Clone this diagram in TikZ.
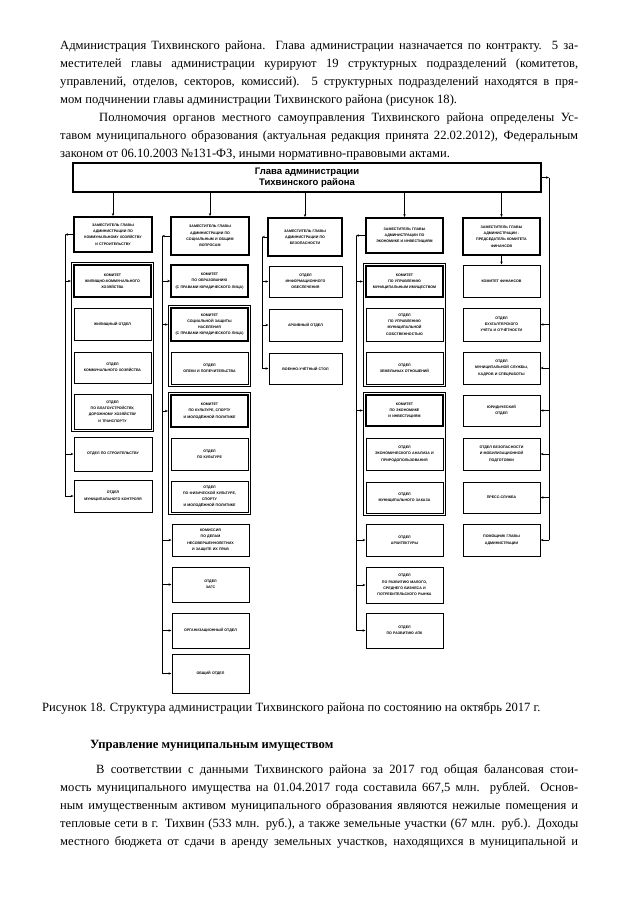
\documentclass[tikz,border=0pt]{standalone}
\usepackage{fontspec}
\setmainfont{Liberation Serif}
\newfontfamily\boxfont{Liberation Sans}
\usetikzlibrary{arrows.meta,fit}
\newcommand\ubox[7]{\node[#6, minimum width={(#4-#2)*1pt}, minimum height={(#5-#3)*1pt}] (#1) at ({(#2+#4)/2},{(#3+#5)/2}) {#7};}
\begin{document}
\begin{tikzpicture}[x=1pt,y=-1pt,
  arr/.style={-{Stealth[length=3pt,width=2.4pt]}, line width=0.7pt},
  ln/.style={line width=0.7pt},
  unit/.style={draw, line width=1pt, align=center, inner sep=0pt, text width=73pt, font=\boxfont\bfseries\fontsize{3.6}{6.2}\selectfont},
  dep/.style={unit, line width=1.8pt},
  kom/.style={unit, line width=1.4pt},
  grp/.style={draw, line width=0.8pt, inner sep=2pt},
  head/.style={draw, line width=2pt, inner sep=0pt, align=center, font=\boxfont\bfseries\fontsize{9.5}{11}\selectfont},
  para/.style={inner sep=0pt, text width=518pt, align=justify, anchor=base west, font=\fontsize{12.6}{18}\selectfont},
  plain/.style={inner sep=0pt, anchor=base west, font=\fontsize{12.6}{18}\selectfont},
]
\useasboundingbox (0,0) rectangle (640,903);
\fill[white] (0,0) rectangle (640,903);

% ---------- text above ----------
\node[para] (p1) at (60,49) {\hyphenpenalty=10000 \tolerance=9000
Администрация Тихвинского района. Глава администрации назначается по контракту. 5 за-\linebreak
местителей главы администрации курируют 19 структурных подразделений (комитетов,\linebreak
управлений, отделов, секторов, комиссий). 5 структурных подразделений находятся в пря-\linebreak
мом подчинении главы администрации Тихвинского района (рисунок 18).\par
\hspace*{39pt}Полномочия органов местного самоуправления Тихвинского района определены Ус-\linebreak
тавом муниципального образования (актуальная редакция принята 22.02.2012), Федеральным\linebreak
законом от 06.10.2003 №131-ФЗ, иными нормативно-правовыми актами.};

% ---------- head ----------
\ubox{top}{73}{163}{541}{192}{head}{Глава администрации\\Тихвинского района}

% ---------- deputies ----------
\ubox{d1}{74}{217}{152}{252}{dep}{ЗАМЕСТИТЕЛЬ ГЛАВЫ\\АДМИНИСТРАЦИИ ПО\\КОММУНАЛЬНОМУ ХОЗЯЙСТВУ\\И СТРОИТЕЛЬСТВУ}
\ubox{d2}{171}{217}{249}{255}{dep}{ЗАМЕСТИТЕЛЬ ГЛАВЫ\\АДМИНИСТРАЦИИ ПО\\СОЦИАЛЬНЫМ И ОБЩИМ\\ВОПРОСАМ}
\ubox{d3}{268}{218}{342}{256}{dep}{ЗАМЕСТИТЕЛЬ ГЛАВЫ\\АДМИНИСТРАЦИИ ПО\\БЕЗОПАСНОСТИ}
\ubox{d4}{366}{218}{443}{253}{dep}{ЗАМЕСТИТЕЛЬ ГЛАВЫ\\АДМИНИСТРАЦИИ ПО\\ЭКОНОМИКЕ И ИНВЕСТИЦИЯМ}
\ubox{d5}{463}{218}{540}{255}{dep}{ЗАМЕСТИТЕЛЬ ГЛАВЫ\\АДМИНИСТРАЦИИ -\\ПРЕДСЕДАТЕЛЬ КОМИТЕТА\\ФИНАНСОВ}

% ---------- column 1 ----------
\ubox{a1}{74}{265}{151}{297}{kom}{КОМИТЕТ\\ЖИЛИЩНО-КОММУНАЛЬНОГО\\ХОЗЯЙСТВА}
\ubox{a2}{74}{308}{151}{340}{unit}{ЖИЛИЩНЫЙ ОТДЕЛ}
\ubox{a3}{74}{352}{151}{383}{unit}{ОТДЕЛ\\КОММУНАЛЬНОГО ХОЗЯЙСТВА}
\ubox{a4}{74}{394}{151}{429}{unit}{ОТДЕЛ\\ПО БЛАГОУСТРОЙСТВУ,\\ДОРОЖНОМУ ХОЗЯЙСТВУ\\И ТРАНСПОРТУ}
\node[grp, fit=(a1)(a4)] (g1) {};
\ubox{a5}{74}{437}{152}{471}{unit}{ОТДЕЛ ПО СТРОИТЕЛЬСТВУ}
\ubox{a6}{74}{480}{152}{512}{unit}{ОТДЕЛ\\МУНИЦИПАЛЬНОГО КОНТРОЛЯ}

% ---------- column 2 ----------
\ubox{b1}{171}{265}{248}{297}{kom}{КОМИТЕТ\\ПО ОБРАЗОВАНИЮ\\(С ПРАВАМИ ЮРИДИЧЕСКОГО ЛИЦА)}
\ubox{b2}{171}{308}{248}{341}{kom}{КОМИТЕТ\\СОЦИАЛЬНОЙ ЗАЩИТЫ\\НАСЕЛЕНИЯ\\(С ПРАВАМИ ЮРИДИЧЕСКОГО ЛИЦА)}
\ubox{b3}{171}{352}{248}{384}{unit}{ОТДЕЛ\\ОПЕКИ И ПОПЕЧИТЕЛЬСТВА}
\node[grp, fit=(b2)(b3)] (g2) {};
\ubox{b4}{171}{395}{248}{427}{kom}{КОМИТЕТ\\ПО КУЛЬТУРЕ, СПОРТУ\\И МОЛОДЁЖНОЙ ПОЛИТИКЕ}
\ubox{b5}{171}{438}{248}{470}{unit}{ОТДЕЛ\\ПО КУЛЬТУРЕ}
\ubox{b6}{171}{481}{248}{512}{unit}{ОТДЕЛ\\ПО ФИЗИЧЕСКОЙ КУЛЬТУРЕ,\\СПОРТУ\\И МОЛОДЁЖНОЙ ПОЛИТИКЕ}
\node[grp, fit=(b4)(b6)] (g3) {};
\ubox{b7}{172}{524}{249}{556}{unit}{КОМИССИЯ\\ПО ДЕЛАМ\\НЕСОВЕРШЕННОЛЕТНИХ\\И ЗАЩИТЕ ИХ ПРАВ}
\ubox{b8}{172}{567}{249}{602}{unit}{ОТДЕЛ\\ЗАГС}
\ubox{b9}{172}{613}{249}{648}{unit}{ОРГАНИЗАЦИОННЫЙ ОТДЕЛ}
\ubox{b10}{172}{654}{249}{693}{unit}{ОБЩИЙ ОТДЕЛ}

% ---------- column 3 ----------
\ubox{c1}{269}{266}{342}{297}{unit}{ОТДЕЛ\\ИНФОРМАЦИОННОГО\\ОБЕСПЕЧЕНИЯ}
\ubox{c2}{269}{309}{342}{341}{unit}{АРХИВНЫЙ ОТДЕЛ}
\ubox{c3}{269}{353}{342}{384}{unit}{ВОЕННО-УЧЁТНЫЙ СТОЛ}

% ---------- column 4 ----------
\ubox{e1}{366}{266}{443}{297}{kom}{КОМИТЕТ\\ПО УПРАВЛЕНИЮ\\МУНИЦИПАЛЬНЫМ ИМУЩЕСТВОМ}
\ubox{e2}{366}{308}{443}{341}{unit}{ОТДЕЛ\\ПО УПРАВЛЕНИЮ\\МУНИЦИПАЛЬНОЙ\\СОБСТВЕННОСТЬЮ}
\ubox{e3}{366}{352}{443}{384}{unit}{ОТДЕЛ\\ЗЕМЕЛЬНЫХ ОТНОШЕНИЙ}
\node[grp, fit=(e1)(e3)] (g4) {};
\ubox{e4}{366}{395}{443}{426}{kom}{КОМИТЕТ\\ПО ЭКОНОМИКЕ\\И ИНВЕСТИЦИЯМ}
\ubox{e5}{366}{438}{443}{470}{unit}{ОТДЕЛ\\ЭКОНОМИЧЕСКОГО АНАЛИЗА И\\ПРИРОДОПОЛЬЗОВАНИЯ}
\ubox{e6}{366}{482}{443}{513}{unit}{ОТДЕЛ\\МУНИЦИПАЛЬНОГО ЗАКАЗА}
\node[grp, fit=(e4)(e6)] (g5) {};
\ubox{e7}{366}{524}{443}{556}{unit}{ОТДЕЛ\\АРХИТЕКТУРЫ}
\ubox{e8}{366}{567}{443}{603}{unit}{ОТДЕЛ\\ПО РАЗВИТИЮ МАЛОГО,\\СРЕДНЕГО БИЗНЕСА И\\ПОТРЕБИТЕЛЬСКОГО РЫНКА}
\ubox{e9}{366}{613}{443}{648}{unit}{ОТДЕЛ\\ПО РАЗВИТИЮ АПК}

% ---------- column 5 ----------
\ubox{f1}{463}{265}{540}{297}{unit}{КОМИТЕТ ФИНАНСОВ}
\ubox{f2}{463}{308}{540}{341}{unit}{ОТДЕЛ\\БУХГАЛТЕРСКОГО\\УЧЁТА И ОТЧЁТНОСТИ}
\ubox{f3}{463}{352}{540}{384}{unit}{ОТДЕЛ\\МУНИЦИПАЛЬНОЙ СЛУЖБЫ,\\КАДРОВ И СПЕЦРАБОТЫ}
\ubox{f4}{463}{395}{540}{426}{unit}{ЮРИДИЧЕСКИЙ\\ОТДЕЛ}
\ubox{f5}{463}{438}{540}{470}{unit}{ОТДЕЛ БЕЗОПАСНОСТИ\\И МОБИЛИЗАЦИОННОЙ\\ПОДГОТОВКИ}
\ubox{f6}{463}{482}{540}{513}{unit}{ПРЕСС-СЛУЖБА}
\ubox{f7}{463}{524}{540}{556}{unit}{ПОМОЩНИК ГЛАВЫ\\АДМИНИСТРАЦИИ}

% ---------- bus lines ----------
\coordinate (l1) at (65,0);
\coordinate (l2) at (162,0);
\coordinate (l3) at (262,0);
\coordinate (l4) at (356,0);
\coordinate (r1) at (549,0);

% head to deputies
\foreach \d in {d1,d2,d3,d4,d5}{\draw[arr] (top.south -| \d.north) -- (\d.north);}
\draw[arr] (d5.south) -- (f1.north);

% column 1
\draw[arr] (d1.west) -- (d1.west -| l1);
\draw[ln] (d1.west -| l1) -- (a6.west -| l1);
\draw[arr] (a1.west -| l1) -- (g1.west |- a1.west);
\foreach \b in {a5,a6}{\draw[arr] (\b.west -| l1) -- (\b.west);}

% column 2
\draw[arr] (d2.west) -- (d2.west -| l2);
\draw[ln] (d2.west -| l2) -- (b10.west -| l2);
\draw[arr] (b1.west -| l2) -- (b1.west);
\draw[arr] (b2.west -| l2) -- (g2.west |- b2.west);
\draw[arr] (b4.west -| l2) -- (g3.west |- b4.west);
\foreach \b in {b7,b8,b9,b10}{\draw[arr] (\b.west -| l2) -- (\b.west);}

% column 3
\draw[arr] (d3.west) -- (d3.west -| l3);
\draw[ln] (d3.west -| l3) -- (c3.west -| l3);
\foreach \b in {c1,c2,c3}{\draw[arr] (\b.west -| l3) -- (\b.west);}

% column 4
\draw[arr] (d4.west) -- (d4.west -| l4);
\draw[ln] (d4.west -| l4) -- (e9.west -| l4);
\draw[arr] (e1.west -| l4) -- (g4.west |- e1.west);
\draw[arr] (e4.west -| l4) -- (g5.west |- e4.west);
\foreach \b in {e7,e8,e9}{\draw[arr] (\b.west -| l4) -- (\b.west);}

% right bus
\draw[arr] (top.east) -- (top.east -| r1);
\draw[ln] (top.east -| r1) -- (f7.east -| r1);
\foreach \b in {f2,f3,f4,f5,f6,f7}{\draw[arr] (\b.east -| r1) -- (\b.east);}

% ---------- caption and text below ----------
\node[plain] (cap) at (42,711) {Рисунок 18. Структура администрации Тихвинского района по состоянию на октябрь 2017 г.};
\node[plain, font=\fontsize{12.6}{18}\selectfont\bfseries] (hd) at (90,748) {Управление муниципальным имуществом};
\node[para] (p3) at (60,773) {\hyphenpenalty=10000 \tolerance=9000 \parfillskip=0pt
\hspace*{36pt}В соответствии с данными Тихвинского района за 2017 год общая балансовая стои-\linebreak
мость муниципального имущества на 01.04.2017 года составила 667,5 млн. рублей. Основ-\linebreak
ным имущественным активом муниципального образования являются нежилые помещения и\linebreak
тепловые сети в г. Тихвин (533 млн. руб.), а также земельные участки (67 млн. руб.). Доходы\linebreak
местного бюджета от сдачи в аренду земельных участков, находящихся в муниципальной и\par};
\end{tikzpicture}
\end{document}
